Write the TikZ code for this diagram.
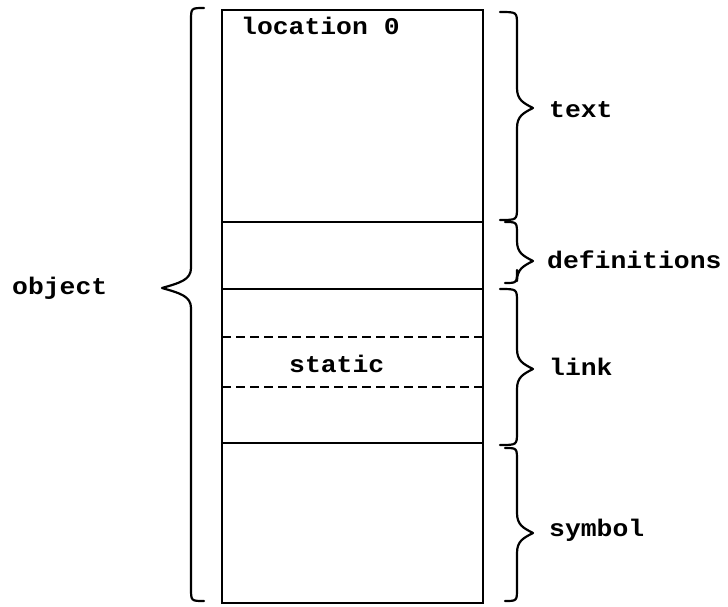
\documentclass[tikz,border=0pt]{standalone}
\usepackage{fontspec}
\newfontfamily\tw[FakeStretch=1.1]{Liberation Mono}
\newcommand\bracepath[6]{% x0, xv, xt, ya, yt, yb
  \draw[brc] (#1,#4) .. controls (#2,#4) .. (#2,#4+13) -- (#2,#5-20)
    .. controls (#2,#5-8) and ({#3+(#2-#3)*0.6},#5-5) .. (#3,#5)
    .. controls ({#3+(#2-#3)*0.6},#5+5) and (#2,#5+8) .. (#2,#5+20)
    -- (#2,#6-13) .. controls (#2,#6) .. (#1,#6);}
\begin{document}
\begin{tikzpicture}[x=1pt,y=-1pt,
  lbl/.style={font=\tw\bfseries\fontsize{24}{27}\selectfont,inner sep=0pt,anchor=base west},
  boxline/.style={line width=2.6pt},
  dashline/.style={line width=2.6pt,dash pattern=on 9pt off 5pt},
  brc/.style={line width=2.2pt,line cap=round,line join=round}]
\useasboundingbox (0,0) rectangle (728,607);
% memory block
\coordinate (tl) at (222,10);
\coordinate (br) at (483,603);
\draw[boxline] (tl) rectangle (br);
\coordinate (d1) at (222,222); \coordinate (d1e) at (483,222);
\coordinate (d2) at (222,289); \coordinate (d2e) at (483,289);
\coordinate (s1) at (222,337); \coordinate (s1e) at (483,337);
\coordinate (s2) at (222,387); \coordinate (s2e) at (483,387);
\coordinate (d3) at (222,443); \coordinate (d3e) at (483,443);
\draw[boxline] (d1) -- (d1e);
\draw[boxline] (d2) -- (d2e);
\draw[dashline] (s1) -- (s1e);
\draw[dashline] (s2) -- (s2e);
\draw[boxline] (d3) -- (d3e);
% texts
\node[lbl] (loc) at (241,35) {location 0};
\node[lbl] (static) at (289,372) {static};
\node[lbl] (object) at (12,294) {object};
\node[lbl] (text) at (549,118) {text};
\node[lbl] (defs) at (547,268) {definitions};
\node[lbl] (link) at (549,375) {link};
\node[lbl] (symbol) at (549,536) {symbol};
% braces
\bracepath{204}{191}{162}{8}{288}{601}
\bracepath{500}{517}{533}{12}{108}{220}
\bracepath{505}{517}{533}{222}{261}{283}
\bracepath{500}{517}{533}{289}{369}{445}
\bracepath{505}{517}{533}{448}{533}{601}
\end{tikzpicture}
\end{document}
